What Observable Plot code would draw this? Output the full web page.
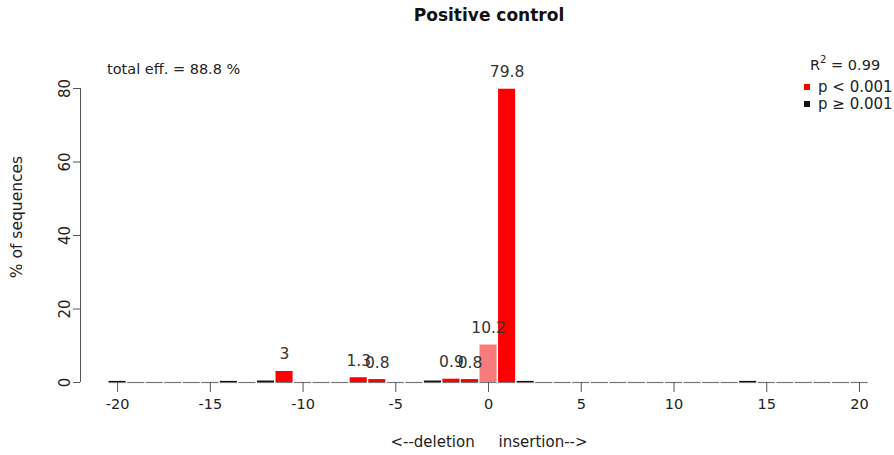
<!DOCTYPE html>
<html><head><meta charset="utf-8">
<script src="https://cdn.jsdelivr.net/npm/d3@7"></script>
<script src="https://cdn.jsdelivr.net/npm/@observablehq/plot@0.6"></script>
<style>
body{margin:0;background:#fff;font-family:"DejaVu Sans",sans-serif;}
#wrap{position:relative;width:894px;height:455px;overflow:hidden;}
.t{position:absolute;color:#222;white-space:pre;line-height:1;}
</style></head><body><div id="wrap"></div>
<script>
const title = "Positive control";
const effText = "total eff. = 88.8 %";
const r2Text = "0.99";
const xLabel = "<--deletion     insertion-->";
const yLabel = "% of sequences";
const positions = [-20,-19,-18,-17,-16,-15,-14,-13,-12,-11,-10,-9,-8,-7,-6,-5,-4,-3,-2,-1,0,1,2,3,4,5,6,7,8,9,10,11,12,13,14,15,16,17,18,19,20];
const percents  = [0.3,0,0,0,0,0,0.3,0,0.4,3,0,0,0,1.3,0.8,0,0,0.4,0.9,0.8,10.2,79.8,0.3,0,0,0,0,0,0,0,0,0,0,0,0.3,0,0,0,0,0,0];
const classes   = ["ns","","","","","","ns","","ns","sig","","","","sig","sig","","","ns","sig","sig","wt","sig","ns","","","","","","","","","","","","ns","","","","","",""];
const barLabels = ["","","","","","","","","","3","","","","1.3","0.8","","","","0.9","0.8","10.2","79.8","","","","","","","","","","","","","","","","","","",""];
const xTicks = [-20,-15,-10,-5,0,5,10,15,20];
const yTicks = [0,20,40,60,80];

const data = positions.map((p,i)=>({pos:p, pct:percents[i], cls:classes[i], label:barLabels[i]}));
const half = 0.46;

const chart = Plot.plot({
  width: 894, height: 455,
  marginLeft: 80, marginRight: 35, marginTop: 88, marginBottom: 73,
  style: {fontFamily: "DejaVu Sans, sans-serif", fontSize: "14px", color: "#222", background: "#fff"},
  x: {type: "linear", domain: [-22, 20]},
  y: {domain: [0, 80]},
  color: {domain: ["sig","ns","wt"], range: ["#ff0000","#111111","#f77b7b"]},
  marks: [
    Plot.ruleY(data, {y: 0, x1: d=>d.pos-half, x2: d=>d.pos+half, stroke: "#777", strokeWidth: 1.2}),
    Plot.rectY(data.filter(d=>d.pct>0), {x1: d=>d.pos-half, x2: d=>d.pos+half, y1: 0, y2: "pct", fill: "cls"}),
    Plot.text(data.filter(d=>d.label), {x: "pos", y: "pct", text: "label", dy: -17, fontSize: 15.5, fill: "#333"}),
    Plot.ruleX([-22], {y1: 0, y2: 80, stroke: "#555"}),
    Plot.axisY({ticks: yTicks, tickSize: 7, tickPadding: 4, tickRotate: -90, fontSize: 15, stroke: "#555", label: null, tickFormat: d => String(d)}),
    Plot.axisX(xTicks, {tickSize: 10, tickPadding: 6, fontSize: 14.5, stroke: "#555", label: null, tickFormat: d => String(d)})
  ]
});
const wrap = document.getElementById("wrap");
wrap.appendChild(chart);

function addText(html, css){
  const d = document.createElement("div");
  d.className = "t"; d.innerHTML = html; Object.assign(d.style, css);
  wrap.appendChild(d); return d;
}
addText(title, {left: "0", width: "978px", textAlign: "center", top: "7px", fontWeight: "bold", fontSize: "17px", color: "#111"});
addText(effText, {left: "107px", top: "62px", fontSize: "14.5px"});
addText("R<sup style='font-size:10px;vertical-align:7px'>2</sup> = " + r2Text, {left: "810px", top: "55px", fontSize: "14.5px"});
addText("<span style='display:inline-block;width:6px;height:6px;background:#ff0000;margin-right:8px;vertical-align:2px'></span>p &lt; 0.001", {left: "804px", top: "80px", fontSize: "15px"});
addText("<span style='display:inline-block;width:6px;height:6px;background:#111;margin-right:8px;vertical-align:2px'></span>p ≥ 0.001", {left: "804px", top: "97px", fontSize: "15px"});
addText(xLabel.replace(/</g,"&lt;").replace(/>/g,"&gt;"), {left: "0", width: "978px", textAlign: "center", top: "435px", fontSize: "15px"});
addText(yLabel, {left: "18px", top: "217px", fontSize: "15.5px", transform: "translate(-50%,-50%) rotate(-90deg)"});
</script></body></html>
